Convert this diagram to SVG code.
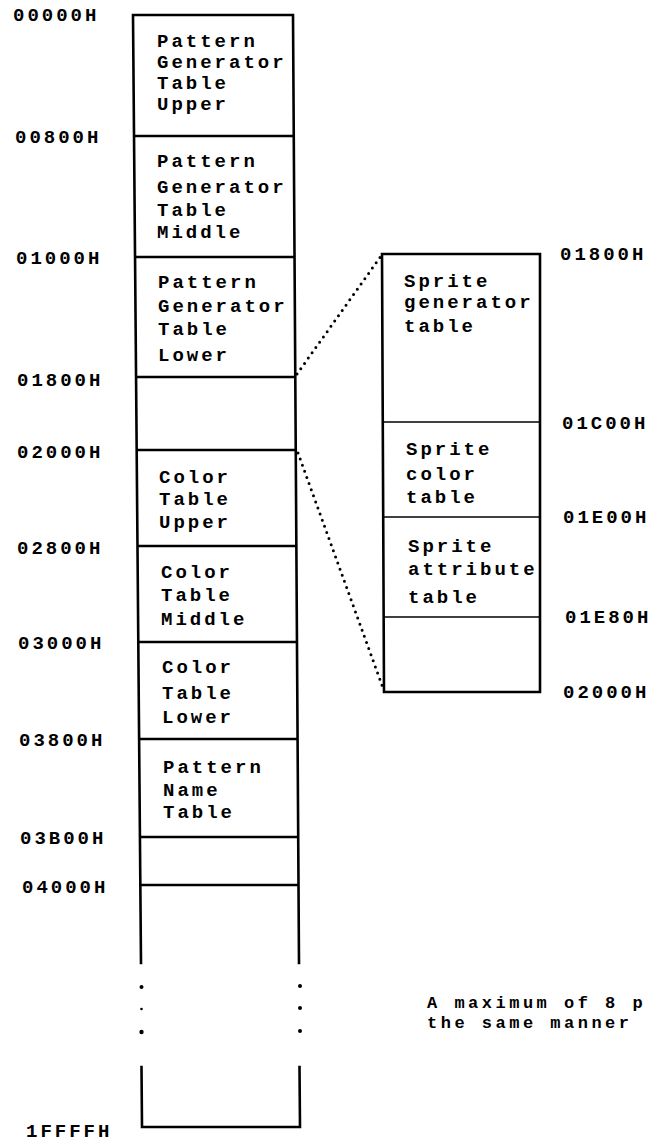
<svg xmlns="http://www.w3.org/2000/svg" width="652" height="1141" viewBox="0 0 652 1141">
<style>
.t{font-family:"Liberation Mono","DejaVu Sans Mono",monospace;font-size:19px;font-weight:bold;letter-spacing:3px;fill:#000}
.a{font-family:"Liberation Mono","DejaVu Sans Mono",monospace;font-size:19px;font-weight:bold;letter-spacing:3px;fill:#000}
.n{font-family:"Liberation Mono","DejaVu Sans Mono",monospace;font-size:17px;font-weight:bold;letter-spacing:3.5px;fill:#000}
.b{stroke:#000;stroke-width:2.6;fill:none;stroke-linecap:square}
.d{stroke:#000;stroke-width:2.4;fill:none}
.thin{stroke:#000;stroke-width:1.6;fill:none}
.dot{stroke:#000;stroke-width:3;fill:none;stroke-linecap:round;stroke-dasharray:0 6.5}
</style>
<rect width="652" height="1141" fill="#fff"/>

<g id="address-labels-left">
<text class="a" x="13" y="21">00000H</text>
<text class="a" x="15" y="143">00800H</text>
<text class="a" x="16" y="264">01000H</text>
<text class="a" x="17" y="386">01800H</text>
<text class="a" x="17" y="458">02000H</text>
<text class="a" x="17" y="554">02800H</text>
<text class="a" x="18" y="649">03000H</text>
<text class="a" x="19" y="746">03800H</text>
<text class="a" x="20" y="844">03B00H</text>
<text class="a" x="22" y="893">04000H</text>
<text class="a" x="26" y="1137">1FFFFH</text>
</g>

<g id="main-column">
<path class="b" d="M133,15 L293,15 M133,15 L141,963 M293,15 L299,963 M141.5,1067 L142,1127 L300,1127 L299.5,1067"/>
<circle cx="141.5" cy="987" r="2"/>
<circle cx="141.5" cy="1009" r="1.3"/>
<circle cx="141.5" cy="1032" r="2.2"/>
<circle cx="300" cy="986" r="2"/>
<circle cx="300" cy="1008" r="2"/>
<circle cx="300" cy="1031" r="2"/>
</g>

<g id="pgt-upper">
<text class="t" x="157" y="47">Pattern</text>
<text class="t" x="157" y="68">Generator</text>
<text class="t" x="157" y="89">Table</text>
<text class="t" x="157" y="110">Upper</text>
</g>
<g id="pgt-middle">
<line class="d" x1="134" y1="136" x2="293.8" y2="136"/>
<text class="t" x="157" y="167">Pattern</text>
<text class="t" x="157" y="193">Generator</text>
<text class="t" x="157" y="216">Table</text>
<text class="t" x="157" y="238">Middle</text>
</g>
<g id="pgt-lower">
<line class="d" x1="135" y1="257" x2="294.4" y2="257"/>
<text class="t" x="158" y="288">Pattern</text>
<text class="t" x="158" y="312">Generator</text>
<text class="t" x="158" y="335">Table</text>
<text class="t" x="158" y="361">Lower</text>
</g>
<g id="sprite-area">
<line class="d" x1="135.9" y1="377" x2="295.2" y2="377"/>
</g>
<g id="ct-upper">
<line class="d" x1="136.5" y1="450" x2="295.7" y2="450"/>
<text class="t" x="159" y="483">Color</text>
<text class="t" x="159" y="505">Table</text>
<text class="t" x="159" y="528">Upper</text>
</g>
<g id="ct-middle">
<line class="d" x1="137.3" y1="546" x2="296.3" y2="546"/>
<text class="t" x="161" y="578">Color</text>
<text class="t" x="161" y="601">Table</text>
<text class="t" x="161" y="625">Middle</text>
</g>
<g id="ct-lower">
<line class="d" x1="138.1" y1="642" x2="297" y2="642"/>
<text class="t" x="162" y="673">Color</text>
<text class="t" x="162" y="699">Table</text>
<text class="t" x="162" y="723">Lower</text>
</g>
<g id="pattern-name-table">
<line class="d" x1="138.9" y1="739" x2="297.6" y2="739"/>
<text class="t" x="163" y="773">Pattern</text>
<text class="t" x="163" y="796">Name</text>
<text class="t" x="163" y="818">Table</text>
</g>
<g id="unused-03B00">
<line class="d" x1="139.7" y1="837" x2="298.2" y2="837"/>
</g>
<g id="rest-04000">
<line class="d" x1="140.1" y1="885" x2="298.5" y2="885"/>
</g>

<g id="sprite-box">
<path class="b" d="M382,254 L540,254 L540,692 L384,692 Z"/>
</g>
<g id="sprite-generator-table">
<text class="t" x="404" y="287">Sprite</text>
<text class="t" x="404" y="308">generator</text>
<text class="t" x="404" y="332">table</text>
</g>
<g id="sprite-color-table">
<line class="thin" x1="383" y1="422" x2="540" y2="422"/>
<text class="t" x="406" y="455">Sprite</text>
<text class="t" x="406" y="480">color</text>
<text class="t" x="406" y="503">table</text>
</g>
<g id="sprite-attribute-table">
<line class="thin" x1="383.5" y1="517" x2="540" y2="517"/>
<text class="t" x="408" y="552">Sprite</text>
<text class="t" x="408" y="575">attribute</text>
<text class="t" x="408" y="603">table</text>
</g>
<g id="sprite-unused">
<line class="thin" x1="384" y1="617" x2="540" y2="617"/>
</g>

<g id="address-labels-right">
<text class="a" x="560" y="260">01800H</text>
<text class="a" x="562" y="429">01C00H</text>
<text class="a" x="563" y="523">01E00H</text>
<text class="a" x="565" y="623">01E80H</text>
<text class="a" x="563" y="698">02000H</text>
</g>

<g id="connectors">
<line class="dot" x1="297" y1="374" x2="381" y2="256"/>
<line class="dot" x1="298" y1="453" x2="383" y2="688"/>
</g>

<g id="note">
<text class="n" x="427" y="1008">A maximum of 8 p</text>
<text class="n" x="427" y="1028">the same manner</text>
</g>
</svg>
